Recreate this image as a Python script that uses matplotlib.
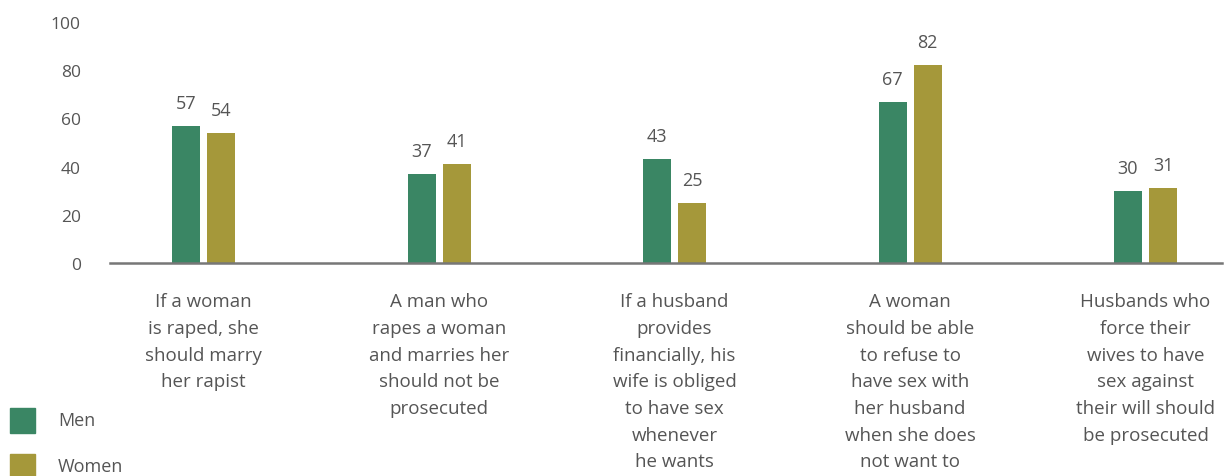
import matplotlib
matplotlib.use("Agg")
import matplotlib.pyplot as plt
from matplotlib.patches import Rectangle

categories = [
    "If a woman\nis raped, she\nshould marry\nher rapist",
    "A man who\nrapes a woman\nand marries her\nshould not be\nprosecuted",
    "If a husband\nprovides\nfinancially, his\nwife is obliged\nto have sex\nwhenever\nhe wants",
    "A woman\nshould be able\nto refuse to\nhave sex with\nher husband\nwhen she does\nnot want to",
    "Husbands who\nforce their\nwives to have\nsex against\ntheir will should\nbe prosecuted",
]
men = [57, 37, 43, 67, 30]
women = [54, 41, 25, 82, 31]
yticks = [0, 20, 40, 60, 80, 100]

MEN_C = "#3A8664"
WOMEN_C = "#A5983A"
TXT = "#555555"
FONT = "Open Sans"

W, H = 1227, 477
SP = 235.5
C0 = 203.5
fig = plt.figure(figsize=(W / 100, H / 100), dpi=100)
ax = fig.add_axes([110 / W, (H - 264) / H, (1222 - 110) / W, (264 - 23) / H])

x = list(range(len(categories)))
bw = 28 / SP
off = 17.5 / SP
ax.bar([i - off for i in x], men, width=bw, color=MEN_C, zorder=2)
ax.bar([i + off for i in x], women, width=bw, color=WOMEN_C, zorder=2)

for i in x:
    ax.annotate(str(men[i]), (i - off, men[i]), xytext=(0, 10), textcoords="offset points",
                ha="center", va="bottom", fontsize=13, color=TXT, family=FONT)
    ax.annotate(str(women[i]), (i + off, women[i]), xytext=(0, 10), textcoords="offset points",
                ha="center", va="bottom", fontsize=13, color=TXT, family=FONT)

ax.set_xlim((110 - C0) / SP, (1222 - C0) / SP)
ax.set_ylim(0, 100)
ax.set_yticks(yticks)
ax.set_yticklabels([str(v) for v in yticks], family=FONT, fontsize=12.5, color=TXT)
ax.tick_params(axis="y", length=0, pad=21)
ax.set_xticks(x)
ax.set_xticklabels(categories, family=FONT, fontsize=13.5, color=TXT, linespacing=1.62, va="top")
ax.tick_params(axis="x", length=0, pad=21)
for s in ["top", "right", "left"]:
    ax.spines[s].set_visible(False)
ax.spines["bottom"].set_color("#777777")
ax.spines["bottom"].set_linewidth(1.8)

# legend
for y0, lab, c in [(409, "Men", MEN_C), (455, "Women", WOMEN_C)]:
    fig.patches.append(Rectangle((10 / W, (H - y0 - 25) / H), 25 / W, 25 / H,
                                 transform=fig.transFigure, color=c))
    fig.text(58 / W, (H - y0 - 12.5) / H, lab, ha="left", va="center",
             fontsize=13, color=TXT, family=FONT)

fig.savefig("out.png", dpi=100)
